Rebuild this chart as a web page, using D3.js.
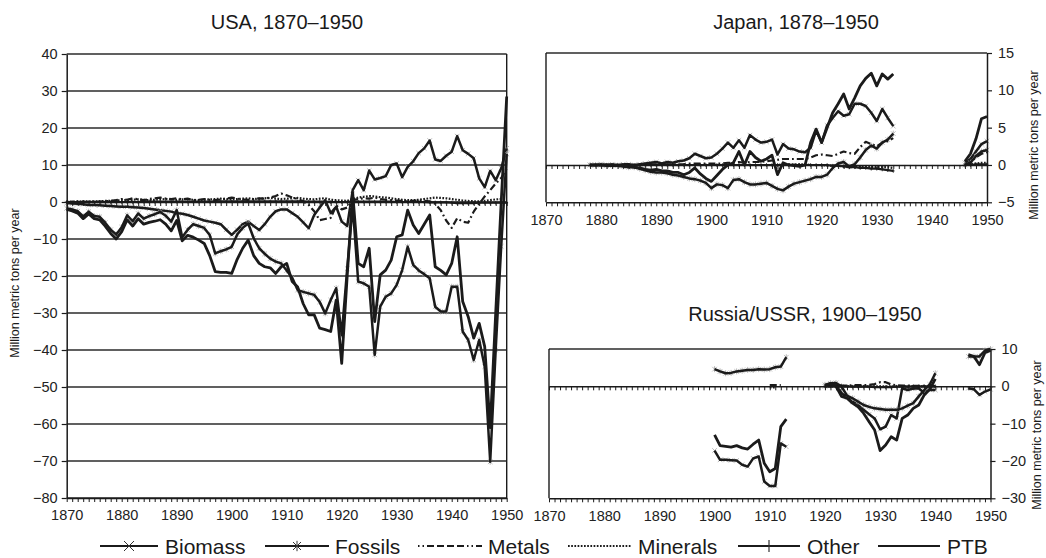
<!DOCTYPE html>
<html>
<head>
<meta charset="utf-8">
<script src="https://cdn.jsdelivr.net/npm/d3@7"></script>
<style>
  body { margin: 0; background: #fff; }
  svg { display: block; font-family: "Liberation Sans", Arial, Helvetica, sans-serif; }
</style>
</head>
<body>
<svg id="chart" width="1046" height="558"></svg>
<script>
// ---------- Physical trade balance, million metric tons per year ----------
// Negative = net exports, positive = net imports. null = no data.

const seriesNames = ["Biomass", "Fossils", "Metals", "Minerals", "Other", "PTB"];
const decadeTicks = [1870, 1880, 1890, 1900, 1910, 1920, 1930, 1940, 1950];

// USA, 1870-1950
const usaYears = d3.range(1870, 1951);
const usaYTicks = [40, 30, 20, 10, 0, -10, -20, -30, -40, -50, -60, -70, -80];
const usaBiomass = [
  -0.3, -0.4, -0.5, -0.6, -0.8, -0.8, -0.9, -1.0, -1.1, -1.2,
  -1.3, -1.3, -1.4, -1.5, -1.6, -1.8, -2.0, -2.2, -2.4, -2.6,
  -3.0, -3.2, -3.5, -4.0, -4.5, -5.0, -5.3, -5.6, -6.0, -7.5,
  -8.9, -7.5, -6.0, -5.3, -6.5, -7.6, -6.0, -4.0, -2.5, -2.0,
  -2.0, -3.0, -4.0, -5.5, -7.1, -3.5, -1.5, 0.5, -3.0, -1.3,
  -5.3, -6.5, 3.2, 5.9, 3.2, 8.5, 6.1, 6.5, 7.0, 10.0,
  10.4, 6.7, 9.5, 11.0, 13.2, 14.5, 16.6, 11.5, 11.1, 12.5,
  13.6, 17.8, 14.0, 13.0, 11.8, 6.4, 4.0, 8.4, 5.9, 9.1,
  14.5
];
const usaFossils = [
  -1.7, -2.0, -2.5, -3.9, -2.6, -3.8, -4.0, -5.6, -7.5, -8.8,
  -6.8, -3.6, -5.2, -3.1, -4.5, -3.8, -3.3, -2.7, -3.7, -5.3,
  -2.2, -9.5, -7.5, -6.0, -6.5, -7.0, -8.9, -13.9, -13.3, -12.8,
  -12.1, -8.8, -7.0, -5.8, -9.8, -12.5, -14.0, -15.3, -16.1, -16.6,
  -18.5, -20.5, -23.8, -24.3, -24.7, -25.1, -27.0, -30.1, -26.5, -23.3,
  -36.0, -18.0, -1.0, -21.5, -22.0, -22.9, -41.3, -28.3, -25.6, -24.7,
  -22.4, -18.4, -12.1, -17.0, -18.5, -19.5, -20.6, -28.3, -29.6, -29.6,
  -22.9, -22.9, -35.0, -37.3, -42.7, -37.3, -44.5, -70.2, -40.0, -12.0,
  13.0
];
const usaMetals = [
  0.0, 0.0, 0.1, 0.1, 0.0, 0.1, 0.1, 0.2, 0.3, 0.5,
  0.8, 0.6, 1.0, 0.7, 0.5, 0.8, 1.0, 1.2, 0.9, 0.8,
  1.0, 0.7, 0.9, 0.5, 0.6, 0.8, 0.6, 0.5, 0.7, 0.9,
  1.2, 0.9, 0.7, 0.6, 0.8, 1.0, 0.9, 1.2, 1.6, 2.3,
  1.8, 1.2, 0.8, 0.2, -0.8, -2.5, -4.9, -4.6, -4.3, -1.0,
  -2.0, -1.5, 0.5, 0.8, 1.0, 0.9, 1.2, 0.8, 0.6, 0.5,
  0.4, 0.3, 0.2, 0.3, 0.4, 0.3, 0.2, -0.5, -2.2, -5.0,
  -7.0, -4.4, -5.3, -5.6, -2.6, -0.5, 1.5, 3.2, 5.0, 6.5,
  9.0
];
const usaMinerals = [
  0.1, 0.1, 0.1, 0.2, 0.2, 0.2, 0.2, 0.3, 0.3, 0.4,
  0.5, 0.6, 0.6, 0.7, 0.6, 0.5, 0.6, 0.7, 0.8, 0.7,
  0.6, 0.7, 0.8, 0.6, 0.5, 0.6, 0.7, 0.8, 0.9, 0.8,
  0.7, 0.8, 0.9, 1.0, 0.8, 0.9, 1.0, 1.1, 0.9, 0.8,
  0.9, 1.0, 1.1, 0.9, 0.8, 0.7, 0.9, 1.0, 0.6, 0.5,
  0.4, 0.3, 0.8, 1.2, 1.4, 1.6, 1.5, 1.3, 1.2, 1.0,
  0.8, 0.6, 0.5, 0.5, 0.6, 0.8, 1.0, 1.2, 1.1, 1.0,
  0.8, 0.6, 0.4, 0.3, 0.2, 0.2, 0.3, 0.5, 0.7, 0.8,
  0.9
];
const usaOther = [
  0.0, 0.0, 0.0, 0.0, 0.0, 0.0, 0.0, 0.0, 0.0, 0.0,
  0.0, 0.0, 0.0, 0.0, 0.1, 0.1, 0.1, 0.1, 0.1, 0.1,
  0.1, 0.1, 0.1, 0.1, 0.1, 0.1, 0.1, 0.2, 0.2, 0.2,
  0.2, 0.2, 0.2, 0.2, 0.2, 0.2, 0.2, 0.2, 0.2, 0.2,
  0.2, 0.2, 0.2, 0.2, 0.1, 0.1, 0.1, 0.1, 0.0, 0.0,
  0.0, 0.0, 0.1, 0.1, 0.1, 0.1, 0.1, 0.1, 0.1, 0.1,
  0.0, 0.0, 0.0, 0.0, 0.0, 0.0, -0.1, -0.1, -0.1, -0.1,
  -0.2, -0.3, -0.3, -0.3, -0.3, -0.2, -0.2, -0.2, -0.2, -0.2,
  -0.2
];
const usaPTB = [
  -2.0, -2.4, -3.0, -4.5, -3.2, -4.5, -4.8, -6.5, -8.5, -10.0,
  -8.0, -4.8, -6.5, -4.5, -6.0, -5.5, -5.2, -4.8, -6.0, -7.8,
  -5.0, -10.5, -9.0, -9.5, -10.3, -11.2, -14.5, -18.8, -19.0, -19.0,
  -19.3, -15.5, -12.5, -10.3, -14.5, -16.6, -17.5, -17.8, -19.3, -17.5,
  -16.6, -21.5, -23.0, -27.5, -30.5, -30.5, -34.1, -34.5, -35.0, -26.5,
  -43.6, -20.0, 2.5, -16.6, -17.5, -12.5, -32.3, -19.7, -18.4, -15.7,
  -9.4, -8.9, -2.2, -6.2, -8.5, -6.0, -3.5, -17.5, -18.5, -19.7,
  -16.6, -9.4, -26.9, -31.0, -36.8, -32.8, -39.1, -61.0, -30.0, 0.0,
  28.5
];

// Japan, 1878-1950 (no data 1934-1945)
const japanYears = d3.range(1878, 1951);
const japanYTicks = [15, 10, 5, 0, -5];
const japanBiomass = [
  0.0, 0.0, 0.1, 0.0, 0.1, 0.0, 0.1, 0.1, 0.0, 0.1, 0.2, 0.3,
  0.4, 0.2, 0.4, 0.3, 0.5, 0.6, 0.9, 1.5, 1.2, 0.9,
  1.0, 1.5, 2.2, 3.0, 2.3, 3.3, 2.3, 4.0, 3.4, 3.0,
  3.1, 3.4, 1.4, 2.8, 2.2, 2.1, 1.8, 1.7, 2.3, 4.6,
  3.0, 5.3, 6.3, 7.2, 6.6, 6.8, 8.2, 8.2, 7.9, 7.0,
  5.9, 7.5, 6.3, 5.2,
  null, null, null, null, null, null, null, null, null, null, null, null,
  0.3, 0.8, 1.8, 2.8, 3.2
];
const japanFossils = [
  0.0, 0.0, 0.0, -0.1, -0.1, -0.1, -0.2, -0.3, -0.3, -0.5, -0.7, -0.9,
  -1.0, -1.0, -1.1, -1.3, -1.4, -1.6, -1.8, -1.9, -2.1, -2.4,
  -3.1, -2.6, -2.7, -3.1, -2.0, -1.9, -2.3, -2.6, -2.6, -2.5,
  -2.4, -2.8, -3.2, -3.4, -2.9, -2.5, -2.3, -2.1, -1.9, -1.6,
  -1.6, -1.3, -0.4, 0.2, 0.4, -0.2, 0.1, 1.0, 2.0, 2.6,
  2.2, 3.0, 3.4, 4.2,
  null, null, null, null, null, null, null, null, null, null, null, null,
  0.0, 0.3, 1.2, 1.8, 2.0
];
const japanMetals = [
  0.0, 0.0, 0.0, 0.0, 0.0, 0.0, 0.0, 0.0, 0.0, 0.0, 0.1, 0.1,
  0.1, 0.1, 0.1, 0.1, 0.1, 0.1, 0.2, 0.2, 0.2, 0.2,
  0.2, 0.2, 0.2, 0.3, 0.3, 0.4, 0.3, 0.4, 0.4, 0.4,
  0.5, 0.6, 0.7, 0.8, 0.8, 0.8, 0.8, 0.8, 1.0, 1.3,
  1.4, 1.3, 1.2, 1.5, 1.8, 1.6, 1.5, 2.4, 3.1, 2.8,
  2.5, 3.0, 3.2, 3.6,
  null, null, null, null, null, null, null, null, null, null, null, null,
  0.0, 0.4, 1.0, 1.5, 1.7
];
const japanMinerals = [
  0.0, 0.0, 0.0, 0.0, 0.0, 0.0, 0.0, 0.0, 0.0, 0.0, 0.0, 0.0,
  0.0, 0.0, 0.0, 0.0, 0.0, 0.0, 0.0, 0.0, 0.0, 0.0,
  0.0, 0.0, 0.0, 0.0, 0.0, 0.0, 0.0, 0.0, 0.0, 0.0,
  0.0, 0.0, 0.0, 0.1, 0.1, 0.1, 0.1, 0.1, 0.0, 0.0,
  0.0, -0.1, -0.1, -0.1, -0.2, -0.2, -0.2, -0.2, -0.3, -0.3,
  -0.3, -0.3, -0.3, -0.4,
  null, null, null, null, null, null, null, null, null, null, null, null,
  0.0, 0.1, 0.2, 0.3, 0.3
];
const japanOther = [
  0.0, 0.0, 0.0, 0.0, 0.0, 0.0, 0.0, 0.0, 0.0, 0.0, 0.0, 0.0,
  0.0, 0.0, 0.0, 0.0, 0.0, 0.0, 0.0, 0.0, 0.0, 0.0,
  0.0, 0.0, 0.0, 0.0, 0.0, 0.0, 0.0, 0.0, 0.0, 0.0,
  0.0, 0.0, 0.0, 0.0, 0.0, 0.0, 0.0, 0.0, 0.0, 0.0,
  0.0, 0.0, -0.1, -0.1, -0.2, -0.3, -0.3, -0.4, -0.4, -0.5,
  -0.5, -0.6, -0.7, -0.8,
  null, null, null, null, null, null, null, null, null, null, null, null,
  0.0, 0.0, 0.1, 0.1, 0.1
];
const japanPTB = [
  0.0, 0.0, 0.0, 0.0, 0.0, -0.1, -0.1, -0.2, -0.3, -0.4, -0.6, -0.7,
  -0.6, -0.8, -0.8, -1.0, -1.0, -1.3, -1.0, -0.4, -1.2, -1.8,
  -2.2, -1.4, -0.6, 0.0, 0.3, 1.8, 0.0, 1.8, 1.0, 0.5,
  0.8, 1.3, -1.3, 0.3, 0.0, -0.1, -0.2, 0.0, 3.0, 4.8,
  3.0, 5.0, 7.0, 8.2, 9.5, 7.5, 9.0, 10.6, 11.6, 12.3,
  10.6, 12.2, 11.5, 12.2,
  null, null, null, null, null, null, null, null, null, null, null, null,
  0.5, 1.5, 3.5, 6.2, 6.5
];

// Russia/USSR, 1900-1950 (no data 1914-1919 and 1941-1945)
const russiaYears = d3.range(1900, 1951);
const russiaYTicks = [10, 0, -10, -20, -30];
const russiaBiomass = [
  -17.2, -19.7, -19.7, -19.8, -19.9, -21.0, -21.5, -19.3, -18.8, -25.5, -26.7, -26.7, -15.3, -16.2,
  null, null, null, null, null, null,
  0.0, 0.3, 0.5, -1.8, -3.0, -4.1, -5.0, -6.3, -7.5, -8.6,
  -11.5, -10.8, -7.7, -8.6, -0.5, -1.0, -0.6, -0.5, -1.8, -0.9, -1.0,
  null, null, null, null, null,
  -0.5, -0.8, -2.3, -1.4, -0.8
];
const russiaFossils = [
  4.6, 4.0, 3.5, 3.6, 4.0, 4.2, 4.4, 4.4, 4.6, 4.5, 4.6, 5.1, 5.3, 7.8,
  null, null, null, null, null, null,
  0.4, 0.8, 0.9, 0.0, -2.5, -3.2, -4.1, -5.0, -5.5, -5.9,
  -6.1, -6.3, -6.3, -6.3, -5.9, -5.2, -4.5, -2.7, -1.0, 0.5, 3.5,
  null, null, null, null, null,
  8.0, 8.0, 8.0, 9.6, 10.0
];
const russiaMetals = [
  null, null, null, null, null, null, null, null, null, null, 0.3, 0.3, 0.3, null,
  null, null, null, null, null, null,
  0.1, 0.1, 0.2, 0.2, 0.2, 0.3, 0.3, 0.3, 0.4, 0.6,
  1.1, 1.1, 0.5, 0.3, 0.2, 0.2, 0.1, 0.1, 0.1, 0.1, 0.1,
  null, null, null, null, null,
  null, null, null, null, null
];
const russiaMinerals = [
  null, null, null, null, null, null, null, null, null, null, -0.3, -0.3, null, null,
  null, null, null, null, null, null,
  0.0, 0.0, 0.0, 0.0, 0.0, 0.0, 0.0, 0.0, 0.0, 0.0,
  0.0, 0.0, 0.0, 0.0, 0.0, 0.0, 0.0, 0.0, 0.0, 0.0, 0.0,
  null, null, null, null, null,
  null, null, null, null, null
];
const russiaOther = [
  null, null, null, null, null, null, null, null, null, null, null, null, null, null,
  null, null, null, null, null, null,
  0.0, 0.0, 0.0, 0.0, 0.0, -0.1, -0.1, -0.1, -0.1, -0.2,
  -0.2, -0.2, -0.2, -0.1, -0.1, -0.1, 0.0, 0.0, 0.0, 0.0, 0.0,
  null, null, null, null, null,
  null, null, null, null, null
];
const russiaPTB = [
  -13.0, -15.9, -16.1, -16.3, -15.9, -16.5, -16.8, -15.5, -14.4, -20.6, -22.9, -22.0, -10.8, -8.8,
  null, null, null, null, null, null,
  0.3, 0.8, 0.0, -2.7, -3.2, -4.5, -5.5, -7.2, -9.5, -11.7,
  -17.2, -15.7, -13.5, -14.4, -8.6, -7.7, -5.9, -5.0, -2.3, -0.8, 2.0,
  null, null, null, null, null,
  8.5, 8.0, 5.8, 9.0, 9.6
];

// ---------- styling ----------
const INK = "#1b1b1b";
const MARK = "#a8a8a8";
const seriesStyle = {
  Biomass:  { dash: null, marker: "cross", width: 2.5 },
  Fossils:  { dash: null, marker: "star", width: 2.5 },
  Metals:   { dash: "7,3,1.8,3", marker: null, width: 2.2 },
  Minerals: { dash: "1.7,1.5", marker: null, width: 2.2 },
  Other:    { dash: null, marker: "plus", width: 2.2 },
  PTB:      { dash: null, marker: null, width: 2.8 }
};

const svg = d3.select("#chart");

function drawMarker(g, type, cx, cy, s, color, sw) {
  const seg = (x1, y1, x2, y2) => g.append("line")
    .attr("x1", cx + x1).attr("y1", cy + y1).attr("x2", cx + x2).attr("y2", cy + y2)
    .attr("stroke", color).attr("stroke-width", sw);
  if (type === "cross" || type === "star") {
    seg(-s, -s, s, s);
    seg(-s, s, s, -s);
  }
  if (type === "star") seg(0, -s * 1.3, 0, s * 1.3);
  if (type === "plus") {
    seg(0, -s * 1.3, 0, s * 1.3);
    seg(-s, 0, s, 0);
  }
}

function drawPanel(p) {
  const g = svg.append("g");
  const yMin = p.yTicks[p.yTicks.length - 1], yMax = p.yTicks[0];
  const x = d3.scaleLinear().domain([1870, 1950]).range([p.left, p.right]);
  const y = d3.scaleLinear().domain([yMin, yMax]).range([p.bottom, p.top]);
  const allYears = d3.range(1870, 1951);

  // horizontal grid (USA) or frame top (Japan, Russia)
  const rows = p.grid ? p.yTicks : [yMax];
  g.selectAll(null).data(rows).join("line")
    .attr("x1", x(1870)).attr("x2", x(1950))
    .attr("y1", d => y(d)).attr("y2", d => y(d))
    .attr("stroke", "#2b2b2b").attr("stroke-width", 1.3);

  // opposite vertical frame line
  const frameX = p.side === "left" ? x(1950) : x(1870);
  g.append("line").attr("x1", frameX).attr("x2", frameX)
    .attr("y1", y(yMax)).attr("y2", y(yMin))
    .attr("stroke", INK).attr("stroke-width", 1.4);

  // data lines; grey point markers sit just beneath each line
  p.series.forEach(s => {
    const st = seriesStyle[s.name];
    const pts = p.years.map((yr, i) => [yr, s.values[i]]);
    const line = d3.line()
      .defined(d => d[1] !== null)
      .x(d => x(d[0])).y(d => y(d[1]));
    if (st.marker && st.marker !== "plus") {
      const mg = g.append("g");
      pts.filter(d => d[1] !== null).forEach(d =>
        drawMarker(mg, st.marker, x(d[0]), y(d[1]), 2.3, MARK, 0.8));
    }
    g.append("path").datum(pts)
      .attr("d", line)
      .attr("fill", "none")
      .attr("stroke", INK)
      .attr("stroke-width", st.width)
      .attr("stroke-linejoin", "round")
      .attr("stroke-dasharray", st.dash);
    if (st.marker === "plus") {
      const mg = g.append("g");
      pts.filter(d => d[1] !== null).forEach(d =>
        drawMarker(mg, "plus", x(d[0]), y(d[1]), 1.4, INK, 0.8));
    }
  });

  // year ticks along zero line
  g.append("g")
    .attr("transform", `translate(0,${y(0)})`)
    .call(d3.axisBottom(x).tickValues(allYears).tickSize(4).tickSizeOuter(0).tickFormat(""))
    .call(a => a.selectAll("line").attr("stroke", INK).attr("stroke-width", 1))
    .call(a => a.select(".domain").attr("stroke", INK).attr("stroke-width", 1.5));

  // bottom year axis with decade labels
  g.append("g")
    .attr("transform", `translate(0,${y(yMin)})`)
    .call(d3.axisBottom(x).tickValues(allYears).tickSize(4).tickSizeOuter(0).tickPadding(8)
      .tickFormat(d => decadeTicks.includes(d) ? String(d) : ""))
    .call(a => a.selectAll("line").attr("stroke", INK).attr("stroke-width", 1))
    .call(a => a.select(".domain").attr("stroke", INK).attr("stroke-width", 1.5))
    .call(a => a.selectAll("text").attr("fill", "#222").attr("font-size", 14.5)
      .attr("font-family", "Liberation Sans, Arial, sans-serif"));

  // value axis
  const yAxis = (p.side === "left" ? d3.axisLeft(y) : d3.axisRight(y))
    .tickValues(p.yTicks).tickSize(5).tickSizeOuter(0).tickPadding(p.side === "left" ? 4 : 6)
    .tickFormat(d3.format("d"));
  g.append("g")
    .attr("transform", `translate(${p.side === "left" ? x(1870) : x(1950)},0)`)
    .call(yAxis)
    .call(a => a.selectAll("line").attr("stroke", INK).attr("stroke-width", 1.2))
    .call(a => a.select(".domain").attr("stroke", INK).attr("stroke-width", 1.5))
    .call(a => a.selectAll("text").attr("fill", "#222").attr("font-size", 14.5)
      .attr("font-family", "Liberation Sans, Arial, sans-serif"));

  // panel title
  svg.append("text")
    .attr("x", p.titleX).attr("y", p.titleY)
    .attr("text-anchor", "middle")
    .attr("font-size", 20).attr("fill", "#1a1a1a")
    .text(p.title);

  // value axis title
  svg.append("text")
    .attr("transform", `translate(${p.labelX},${p.labelY}) rotate(-90)`)
    .attr("text-anchor", "middle")
    .attr("dominant-baseline", "central")
    .attr("font-size", 12.5).attr("fill", "#1a1a1a")
    .text("Million metric tons per year");
}

const pack = (names, arrays) => names.map((n, i) => ({ name: n, values: arrays[i] }));

drawPanel({
  title: "USA, 1870–1950", titleX: 287, titleY: 29,
  left: 66.7, right: 506.7, top: 54, bottom: 498,
  yTicks: usaYTicks, grid: true, side: "left",
  labelX: 15, labelY: 283,
  years: usaYears,
  series: pack(seriesNames, [usaBiomass, usaFossils, usaMetals, usaMinerals, usaOther, usaPTB])
});

drawPanel({
  title: "Japan, 1878–1950", titleX: 796, titleY: 29,
  left: 546, right: 987, top: 53, bottom: 202.3,
  yTicks: japanYTicks, grid: false, side: "right",
  labelX: 1034, labelY: 145,
  years: japanYears,
  series: pack(seriesNames, [japanBiomass, japanFossils, japanMetals, japanMinerals, japanOther, japanPTB])
});

drawPanel({
  title: "Russia/USSR, 1900–1950", titleX: 805, titleY: 321,
  left: 549, right: 990.5, top: 349, bottom: 498.3,
  yTicks: russiaYTicks, grid: false, side: "right",
  labelX: 1037, labelY: 435,
  years: russiaYears,
  series: pack(seriesNames, [russiaBiomass, russiaFossils, russiaMetals, russiaMinerals, russiaOther, russiaPTB])
});

// ---------- legend ----------
const legendLayout = [
  { name: "Biomass",  x0: 100, x1: 158, tx: 165 },
  { name: "Fossils",  x0: 265, x1: 329, tx: 335 },
  { name: "Metals",   x0: 418, x1: 482, tx: 488 },
  { name: "Minerals", x0: 568, x1: 632, tx: 638 },
  { name: "Other",    x0: 738, x1: 800, tx: 807 },
  { name: "PTB",      x0: 878, x1: 940, tx: 947 }
];
const ly = 546;
const lg = svg.append("g");
legendLayout.forEach(it => {
  const st = seriesStyle[it.name];
  lg.append("line")
    .attr("x1", it.x0).attr("x2", it.x1).attr("y1", ly).attr("y2", ly)
    .attr("stroke", INK).attr("stroke-width", 2)
    .attr("stroke-dasharray", it.name === "Metals" ? "1.5,3,1.5,3,7,3,7,3,7,3,7,3" : st.dash);
  const cx = (it.x0 + it.x1) / 2;
  if (st.marker === "cross") drawMarker(lg, "cross", cx, ly, 5, "#333", 1);
  if (st.marker === "star") drawMarker(lg, "star", cx, ly, 4, "#333", 1);
  if (st.marker === "plus") {
    lg.append("line").attr("x1", cx).attr("x2", cx).attr("y1", ly - 6).attr("y2", ly + 6)
      .attr("stroke", "#333").attr("stroke-width", 1.2);
  }
  lg.append("text")
    .attr("x", it.tx).attr("y", ly)
    .attr("dominant-baseline", "central")
    .attr("font-size", 21).attr("fill", "#1a1a1a")
    .text(it.name);
});
</script>
</body>
</html>
